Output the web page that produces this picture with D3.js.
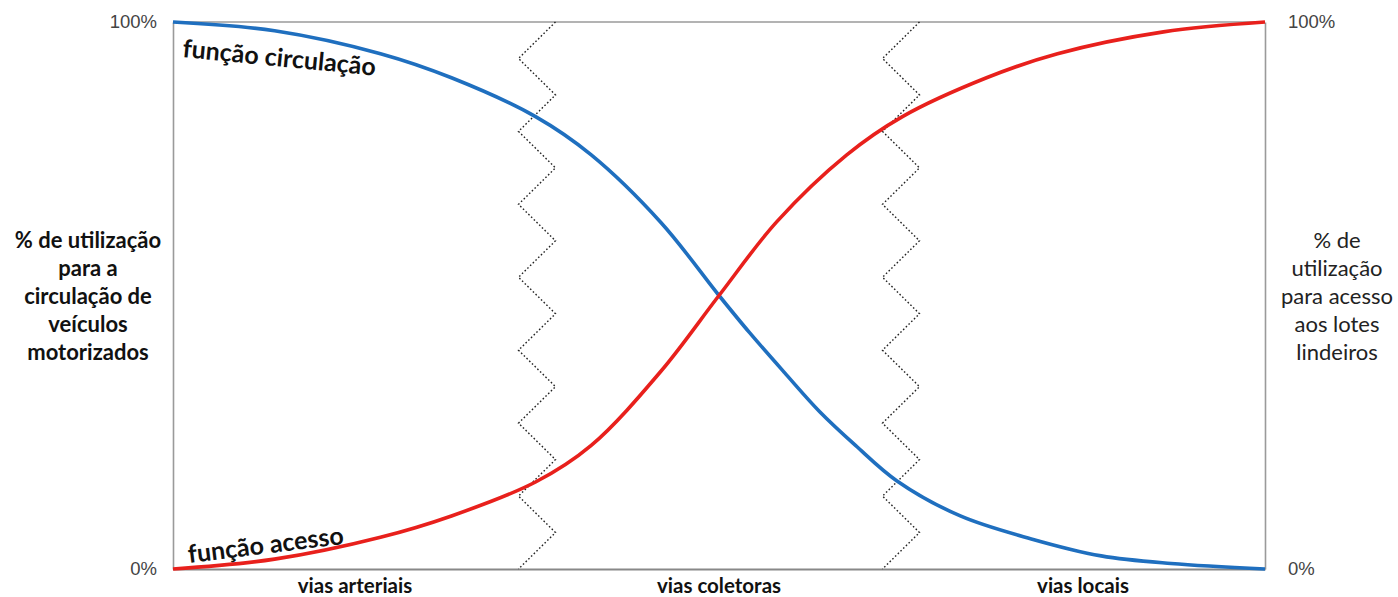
<!DOCTYPE html>
<html><head><meta charset="utf-8">
<script src="https://cdn.jsdelivr.net/npm/d3@7"></script>
<style>
html,body{margin:0;padding:0;background:#fff;}
svg{display:block;}
</style></head>
<body>
<svg id="chart" width="1398" height="597"></svg>
<script>
// ---- data ----
const categories = ["vias arteriais", "vias coletoras", "vias locais"];
const positions = [0, 0.093, 0.19, 0.255, 0.332, 0.383, 0.447, 0.5, 0.528, 0.56, 0.592, 0.625, 0.663, 0.721, 0.786, 0.85, 0.914, 1];
const circulacao = [100, 98.4, 94.2, 89.8, 82.7, 75.7, 63.3, 50, 43.2, 35.9, 28.8, 22.6, 16.1, 9.7, 5.5, 2.4, 1.0, 0];
const acessoPos = [0, 0.093, 0.19, 0.255, 0.332, 0.383, 0.447, 0.5, 0.553, 0.617, 0.668, 0.745, 0.81, 0.907, 1];
const acesso = [0, 1.8, 5.8, 9.7, 15.9, 22.6, 36.2, 50, 63.5, 75.7, 82.7, 89.8, 94.2, 98.2, 100];
const yTickValues = [0, 100];
const leftTitle = ["% de utilização", "para a", "circulação de", "veículos", "motorizados"];
const rightTitle = ["% de", "utilização", "para acesso", "aos lotes", "lindeiros"];
const seriesLabels = ["função circulação", "função acesso"];

// ---- layout ----
const L = 173, R = 1265, T = 22, B = 569;
const svg = d3.select("#chart");
const x = d3.scaleLinear().domain([0, 1]).range([L, R]);
const xb = d3.scaleBand().domain(categories).range([L, R]);
const y = d3.scaleLinear().domain([0, 100]).range([B, T]);

const gridColor = "#9a9a9a";

// top border
svg.append("line").attr("x1", L).attr("x2", R).attr("y1", T).attr("y2", T)
  .attr("stroke", gridColor).attr("stroke-width", 1.3);

// axes
const axL = svg.append("g").attr("transform", `translate(${L},0)`)
  .call(d3.axisLeft(y).tickValues(yTickValues).tickSize(0).tickPadding(16).tickFormat(d => d + "%"));
const axR = svg.append("g").attr("transform", `translate(${R},0)`)
  .call(d3.axisRight(y).tickValues(yTickValues).tickSize(0).tickPadding(23).tickFormat(d => d + "%"));
const axB = svg.append("g").attr("transform", `translate(0,${B})`)
  .call(d3.axisBottom(xb).tickSize(0).tickPadding(9));

[axL, axR].forEach(g => {
  g.select(".domain").attr("stroke", gridColor).attr("stroke-width", 1.6);
  g.selectAll("text").attr("font-family", "Liberation Sans, Arial, sans-serif").attr("font-size", 18.5)
    .attr("fill", "#444");
});
axB.select(".domain").attr("stroke", "#888").attr("stroke-width", 1.8);
axB.selectAll("text").attr("font-family", "Lato, sans-serif").attr("font-weight", "bold")
  .attr("font-size", 20.5).attr("fill", "#111");

// zigzag separators at band boundaries
const amp = 18.5, nSeg = 15;
[1, 2].forEach(i => {
  const cx = xb(categories[i]);
  const pts = d3.range(nSeg + 1).map(k => [cx + (k % 2 === 0 ? amp : -amp), y(100) + (y(0) - y(100)) * k / nSeg]);
  svg.append("path").attr("d", d3.line()(pts)).attr("fill", "none")
    .attr("stroke", "#222").attr("stroke-width", 1.4).attr("stroke-dasharray", "1.6,2.2");
});

// curves
const line = d3.line().curve(d3.curveCatmullRom.alpha(0.5));
svg.append("path")
  .attr("d", line(positions.map((p, i) => [x(p), y(circulacao[i])])))
  .attr("fill", "none").attr("stroke", "#1f6fbf").attr("stroke-width", 3.6);
svg.append("path")
  .attr("d", line(acessoPos.map((p, i) => [x(p), y(acesso[i])])))
  .attr("fill", "none").attr("stroke", "#e8201c").attr("stroke-width", 3.6);

// curve labels
svg.append("text").text(seriesLabels[0])
  .attr("transform", "translate(182,57) rotate(5.5)")
  .attr("font-family", "Lato, sans-serif").attr("font-weight", "bold").attr("font-size", 25).attr("fill", "#111");
svg.append("text").text(seriesLabels[1])
  .attr("transform", "translate(189,563) rotate(-7)")
  .attr("font-family", "Lato, sans-serif").attr("font-weight", "bold").attr("font-size", 25).attr("fill", "#111");

// axis titles
const lt = svg.append("text").attr("font-family", "Lato, sans-serif").attr("font-weight", "bold")
  .attr("font-size", 22).attr("fill", "#111").attr("text-anchor", "middle");
leftTitle.forEach((s, i) => lt.append("tspan").attr("x", 88).attr("y", 248 + i * 28).text(s));
const rt = svg.append("text").attr("font-family", "Lato, sans-serif").attr("font-weight", "normal")
  .attr("font-size", 22).attr("fill", "#222").attr("text-anchor", "middle");
rightTitle.forEach((s, i) => rt.append("tspan").attr("x", 1337).attr("y", 248 + i * 28).text(s));
</script>
</body></html>
